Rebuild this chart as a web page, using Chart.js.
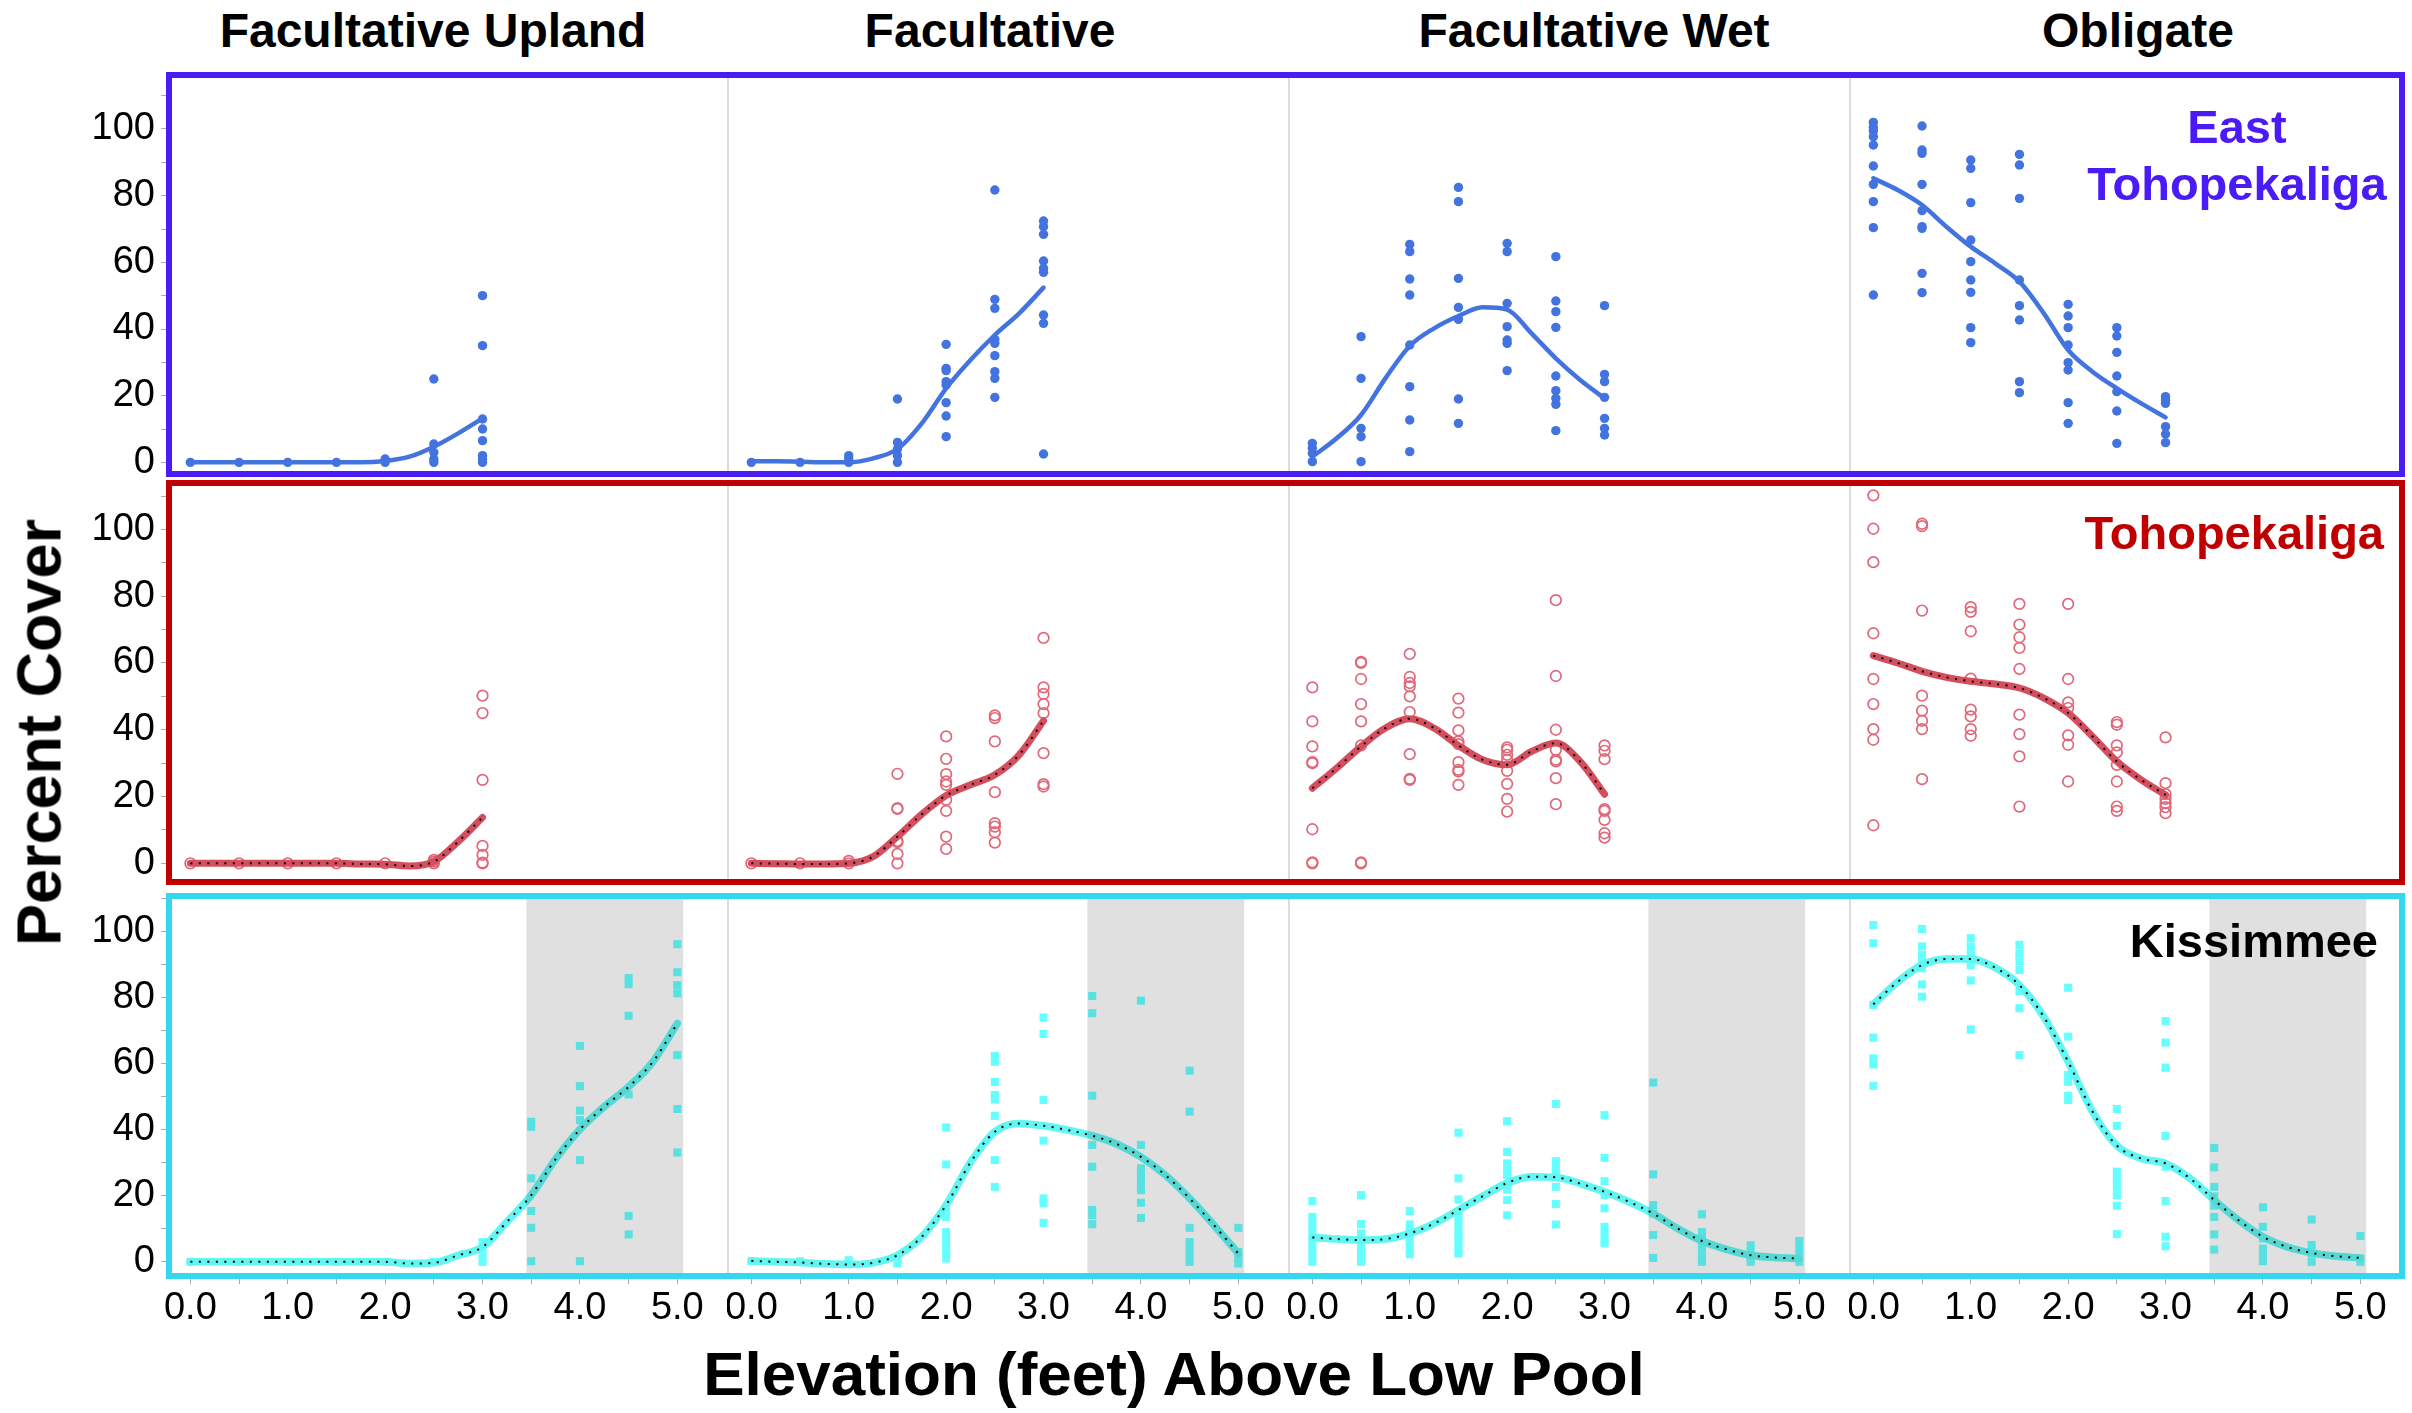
<!DOCTYPE html>
<html>
<head>
<meta charset="utf-8">
<script src="https://cdn.jsdelivr.net/npm/chart.js@4.4.1/dist/chart.umd.min.js"></script>
<style>
  body { margin: 0; background: #fff; overflow: hidden; }
  #figure { position: relative; width: 2412px; height: 1413px; font-family: "Liberation Sans", Arial, sans-serif; }
  #figure canvas { position: absolute; }
  .frame { position: absolute; box-sizing: border-box; border: 6px solid; pointer-events: none; }
  .label { position: absolute; font-weight: bold; line-height: 1; white-space: nowrap; }
</style>
</head>
<body>
<div id="figure"></div>
<script>
// elevations (feet above low pool) where cover was sampled, and where the smooth fit is read
const elevations = [0, 0.5, 1.0, 1.5, 2.0, 2.5, 3.0, 3.5, 4.0, 4.5, 5.0];
const curveX = [0, 0.25, 0.5, 0.75, 1.0, 1.25, 1.5, 1.75, 2.0, 2.25, 2.5, 2.75, 3.0,
                3.25, 3.5, 3.75, 4.0, 4.25, 4.5, 4.75, 5.0];
const xTickValues = [0, 1, 2, 3, 4, 5];
const yTickValues = [0, 20, 40, 60, 80, 100];
const columnTitles = ['Facultative Upland', 'Facultative', 'Facultative Wet', 'Obligate'];
const shadeRange = [3.45, 5.06];

// East Tohopekaliga: percent cover per elevation
const eastUplandPts = [[0], [0], [0], [0], [1, 0], [25, 5.5, 3, 1, 0], [50, 35, 13, 10, 6.5, 2, 1, 0]];
const eastFacPts = [[0], [0], [2, 1, 0], [19, 6, 4, 2, 0],
  [35.4, 28.2, 27.5, 24.2, 23.2, 17.9, 13.9, 7.7],
  [81.7, 48.9, 46.2, 36.9, 35.7, 32, 27.2, 25.2, 19.5],
  [72.4, 70.7, 68.4, 60.4, 58.2, 57, 44.2, 41.7, 2.5]];
const eastWetPts = [[5.7, 4.2, 2.7, 0.2], [37.7, 25.2, 10.2, 7.7, 0.2],
  [65.4, 63.2, 55, 50.2, 35.2, 22.7, 12.7, 3.2],
  [82.5, 78.2, 55.2, 46.5, 42.9, 19, 11.7],
  [65.7, 63.2, 47.7, 40.7, 36.7, 35.7, 27.5],
  [61.7, 48.4, 45.2, 40.5, 25.9, 21.5, 19.2, 17.4, 9.5],
  [47, 26.4, 24.2, 19.5, 13.2, 10.2, 8.2]];
const eastOblPts = [[102, 100.5, 99.5, 97.7, 95.2, 88.9, 83.4, 78.2, 70.4, 50.2],
  [100.9, 93.7, 92.7, 83.4, 75.5, 70.7, 70.2, 56.7, 50.9],
  [90.7, 88.2, 77.9, 66.7, 60.2, 54.7, 51, 40.4, 35.9],
  [92.4, 89.2, 79.2, 54.7, 47, 42.7, 24.2, 20.9],
  [47.4, 43.9, 40.4, 35.2, 29.9, 27.7, 17.9, 11.7],
  [40.4, 37.9, 33, 25.9, 21.2, 15.4, 5.7],
  [19.7, 18.7, 17.7, 10.7, 8.5, 5.9]];
const eastUplandCurve = [0, 0, 0, 0, 0, 0, 0, 0, 0.4, 1.7, 4.7, 8.7, 13.2];
const eastFacCurve = [0.3, 0.3, 0.2, 0, 0, 1.2, 4, 11.7, 22.2, 30.7, 38.2, 44.7, 52.4];
const eastWetCurve = [1.7, 7.2, 14.2, 25.2, 34.9, 40.2, 43.9, 46.5, 45.8, 38.7, 31.2, 24.7, 19.2];
const eastOblCurve = [85.2, 81.7, 77.2, 70.7, 64.7, 59.7, 54.2, 44.7, 33.7, 27.2, 22.2, 17.7, 13.5];

// Tohopekaliga
const tohoUplandPts = [[0], [0], [0], [0], [0], [1, 0.5, 0], [50.2, 45, 25, 5.2, 2.5, 0.2, 0]];
const tohoFacPts = [[0], [0], [0.7, 0], [26.8, 16.5, 16.3, 6.7, 6.3, 2.8, 0],
  [38, 31.3, 26.7, 24.5, 23.5, 19, 15.7, 8, 4.3],
  [44.3, 43.5, 36.5, 21.3, 12, 11, 9.3, 6.2],
  [67.5, 52.7, 50.7, 47.7, 45, 33, 23.7, 23]];
const tohoWetPts = [[52.7, 42.5, 35, 30.3, 30, 10.2, 0.3, 0],
  [60.3, 60, 55.2, 47.7, 42.5, 35.3, 0.3, 0],
  [62.7, 55.8, 54, 53, 50, 45.3, 32.7, 25.3, 25],
  [49.3, 45.1, 39.8, 36.5, 35.7, 30.3, 28, 27.5, 23.5],
  [34.7, 34, 32.5, 31, 27.7, 23.8, 19.3, 15.5],
  [78.8, 56.1, 40, 34, 31, 30.5, 25.5, 17.7],
  [35.3, 33.7, 31.2, 16.2, 15.7, 13, 9, 7.7]];
const tohoOblPts = [[110.2, 100.2, 90.2, 68.9, 55.2, 47.7, 40.2, 37, 11.4],
  [101.7, 101, 75.7, 50.2, 45.7, 42.7, 40.2, 25.2],
  [76.7, 75.3, 69.5, 55.3, 46, 44, 40.2, 38.2],
  [77.7, 71.5, 67.7, 64.5, 58.2, 44.5, 38.7, 32, 17],
  [77.7, 55.2, 48.2, 46.5, 38.3, 35.5, 24.5],
  [42.3, 41.5, 35.3, 33.2, 29.5, 24.5, 17, 15.7],
  [37.7, 24, 20.7, 19.3, 18, 16.8, 15]];
const tohoUplandCurve = [0, 0, 0, 0, 0, 0, 0, -0.2, -0.3, -0.8, 0.5, 6.5, 13.7];
const tohoFacCurve = [0, -0.1, -0.2, -0.2, 0, 2, 8, 14.7, 20.3, 23.5, 26.5, 32.5, 42.7];
const tohoWetCurve = [22.5, 28.5, 35, 40.5, 43.3, 40.5, 35.3, 31, 29.5, 33.5, 36, 30.5, 20.7];
const tohoOblCurve = [62.2, 60, 57.5, 55.7, 54.5, 53.7, 52.5, 49.5, 45, 38, 30.5, 25, 20.5];

// Kissimmee
const kissUplandPts = [[0], [0], [0], [0], [0], [0], [6, 4, 2, 0],
  [42.4, 40.9, 25.3, 15.4, 10.3, 0.2],
  [65.4, 53.2, 45.8, 42.9, 30.8, 0.2],
  [85.9, 84.1, 74.5, 50.7, 13.9, 8.3],
  [96.2, 87.7, 83.8, 81.3, 62.6, 46.3, 33.1]];
const kissFacPts = [[0.2], [0.2], [0.5, -0.5], [1, -0.5],
  [40.7, 29.5, 15.7, 13.6, 9, 7, 5, 3, 1],
  [62.3, 60.6, 54.5, 50.5, 49.2, 44.2, 30.8, 22.7],
  [74, 69, 49, 36.7, 19.2, 17.7, 11.8],
  [80.5, 75.3, 50.3, 35.4, 28.8, 15.7, 14.1, 11.4],
  [79.1, 35.4, 28.3, 26.3, 23.9, 21.7, 17.9, 13.3],
  [57.9, 45.5, 10.3, 6, 4, 2, 0],
  [10.3, 3, 1, -0.5]];
const kissWetPts = [[18.4, 13.6, 11.4, 9.1, 6.6, 4.5, 2.3, 0],
  [20.2, 11.4, 8.6, 6.5, 4.3, 2.2, 0],
  [15.4, 11.3, 9, 6.8, 4.5, 2.3],
  [39.1, 25.3, 18.9, 14.6, 13, 11.1, 9, 7.6, 6, 4, 2.5],
  [42.6, 33.3, 29.8, 28, 26.3, 21.9, 18.7, 14.1],
  [47.8, 30.5, 28.5, 27.3, 22.7, 17.5, 11.3],
  [44.4, 31.5, 24.4, 20.2, 16.2, 10.6, 8.5, 6.5, 5.6],
  [54.3, 26.5, 17.2, 14.6, 8.1, 1.2],
  [14.4, 9, 7, 5, 3, 1, 0],
  [5, 3, 1, 0],
  [6.3, 4, 2, 0]];
const kissOblPts = [[102, 96.5, 77.8, 67.9, 61.6, 59.8, 53.3],
  [100.8, 95.5, 92.9, 90.9, 88.9, 84, 80.3],
  [98, 95.5, 93.4, 91.7, 89.9, 85.2, 70.4],
  [96, 93.4, 91, 88.4, 82, 76.8, 62.6],
  [83, 68.2, 56.6, 54.5, 50.2, 49],
  [46.3, 41.2, 27.3, 25, 22.7, 20.2, 17, 8.4],
  [72.9, 66.4, 58.8, 38.1, 28.8, 18.4, 7.6, 4.7],
  [34.5, 28.6, 22.7, 19.8, 17, 13.6, 8.3, 3.7],
  [16.5, 10.6, 7.1, 4, 2, 0.2],
  [12.8, 5.1, 2.5, 0],
  [7.8, 1, 0]];
const kissUplandCurve = [0, 0, 0, 0, 0, 0, 0, 0, 0, -0.5, -0.3, 2, 4.5, 12.1, 20.2, 31.1, 40.1, 47, 53, 60.6, 72.2];
const kissFacCurve = [0.3, 0, -0.2, -0.6, -0.8, -0.3, 2, 7.6, 17.2, 30.1, 39.4, 41.9, 41.2, 39.9, 38.2, 35.7, 31.8, 26.3, 19.2, 11.1, 2.5];
const kissWetCurve = [7.4, 6.9, 6.6, 6.9, 8.6, 11.6, 15.7, 19.9, 23.9, 25.8, 25.6, 23.7, 21.2, 18.2, 14.6, 10.1, 6.3, 3.8, 2, 1.3, 1];
const kissOblCurve = [78, 84.8, 89.9, 91.7, 91.7, 89.1, 83.8, 74.2, 60.6, 45.5, 35.2, 31.3, 29.8, 25.3, 18.7, 12.6, 7.6, 4.5, 2.7, 1.7, 1.2];

const panelPoints = [
  [eastUplandPts, eastFacPts, eastWetPts, eastOblPts],
  [tohoUplandPts, tohoFacPts, tohoWetPts, tohoOblPts],
  [kissUplandPts, kissFacPts, kissWetPts, kissOblPts]
];
const panelCurves = [
  [eastUplandCurve, eastFacCurve, eastWetCurve, eastOblCurve],
  [tohoUplandCurve, tohoFacCurve, tohoWetCurve, tohoOblCurve],
  [kissUplandCurve, kissFacCurve, kissWetCurve, kissOblCurve]
];

// layout (page pixels)
const colLeft = [166, 727, 1288, 1849];
const colWidth = 561;
const rowTop = [72, 480, 893];
const rowHeight = [405, 405, 386];
const rowYMin = [-4.4, -6.5, -5.2];
const rowYMax = [117.1, 114.8, 111.7];
const xMin = -0.25, xMax = 5.51;
const yAxisWidth = 130, xAxisHeight = 60;

const rowStyles = [
  { frame: '#4b1bf7', pointStyle: 'circle', radius: 4.7, fill: '#4273de', stroke: '#4273de', strokeWidth: 0,
    line: '#4273de', lineWidth: 4.5, dotted: false },
  { frame: '#c00000', pointStyle: 'circle', radius: 5.3, fill: 'rgba(0,0,0,0)', stroke: '#e06878', strokeWidth: 1.7,
    line: '#d44e5d', lineWidth: 7, dotted: true },
  { frame: '#33d8ee', pointStyle: 'rect', radius: 5.7, fill: '#66ffff', stroke: '#66ffff', strokeWidth: 0,
    line: '#60f6f1', lineWidth: 7.5, dotted: true }
];

Chart.defaults.font.family = '"Liberation Sans", Arial, sans-serif';

const panelDecor = {
  id: 'panelDecor',
  beforeDatasetsDraw(chart, args, opts) {
    if (!opts.separator) return;
    const { ctx, chartArea } = chart;
    ctx.save();
    ctx.strokeStyle = '#dcdcdc';
    ctx.lineWidth = 2;
    ctx.beginPath();
    ctx.moveTo(chartArea.left + 1, chartArea.top);
    ctx.lineTo(chartArea.left + 1, chartArea.bottom);
    ctx.stroke();
    ctx.restore();
  },
  afterDatasetsDraw(chart, args, opts) {
    if (!opts.shade) return;
    const { ctx, chartArea } = chart;
    const x = chart.scales.x;
    const x0 = x.getPixelForValue(opts.shade[0]);
    const x1 = x.getPixelForValue(opts.shade[1]);
    ctx.save();
    ctx.fillStyle = 'rgba(0,0,0,0.12)';
    ctx.fillRect(x0, chartArea.top, x1 - x0, chartArea.bottom - chartArea.top);
    ctx.restore();
  }
};

const figure = document.getElementById('figure');

function buildPanel(row, col) {
  const hasY = col === 0;
  const hasX = row === 2;
  const style = rowStyles[row];
  const left = colLeft[col] - (hasY ? yAxisWidth : 0);
  const width = colWidth + (hasY ? yAxisWidth : 0);
  const height = rowHeight[row] + (hasX ? xAxisHeight : 0);

  const canvas = document.createElement('canvas');
  canvas.width = width;
  canvas.height = height;
  canvas.style.left = left + 'px';
  canvas.style.top = rowTop[row] + 'px';
  canvas.style.width = width + 'px';
  canvas.style.height = height + 'px';
  figure.appendChild(canvas);

  const scatter = [];
  panelPoints[row][col].forEach((values, i) => {
    values.forEach(v => scatter.push({ x: elevations[i], y: v }));
  });
  const curve = panelCurves[row][col].map((v, i) => ({ x: curveX[i], y: v }));

  const datasets = [];
  if (style.dotted) {
    datasets.push({
      data: curve, showLine: true, pointRadius: 0, borderColor: '#000', borderWidth: 2,
      borderDash: [2, 6.5], cubicInterpolationMode: 'monotone', order: 1
    });
  }
  datasets.push({
    data: curve, showLine: true, pointRadius: 0, borderColor: style.line, borderWidth: style.lineWidth,
    borderCapStyle: 'round', cubicInterpolationMode: 'monotone', order: 2
  });
  datasets.push({
    data: scatter, showLine: false, pointStyle: style.pointStyle, pointRadius: style.radius,
    pointBackgroundColor: style.fill, pointBorderColor: style.stroke, pointBorderWidth: style.strokeWidth,
    order: 3
  });

  new Chart(canvas, {
    type: 'scatter',
    data: { datasets },
    plugins: [panelDecor],
    options: {
      responsive: false,
      animation: false,
      events: [],
      layout: { padding: 0, autoPadding: false },
      plugins: {
        legend: { display: false },
        tooltip: { enabled: false },
        panelDecor: { separator: col > 0, shade: row === 2 ? shadeRange : null }
      },
      scales: {
        x: {
          type: 'linear', min: xMin, max: xMax, display: hasX,
          afterBuildTicks: axis => { axis.ticks = axis.ticks.filter(t => t.value >= 0 && t.value <= 5); },
          afterFit: axis => {
            axis.height = hasX ? xAxisHeight : 0;
            axis.paddingLeft = 0;
            axis.paddingRight = 0;
          },
          ticks: {
            stepSize: 0.5, includeBounds: false, autoSkip: false, maxRotation: 0, minRotation: 0, padding: 2,
            color: '#000', font: { size: 38 },
            callback: v => xTickValues.includes(v) ? v.toFixed(1) : ''
          },
          grid: { drawOnChartArea: false, drawTicks: true, tickLength: 5, color: '#aaa' },
          border: { display: false }
        },
        y: {
          type: 'linear', min: rowYMin[row], max: rowYMax[row], display: hasY,
          afterBuildTicks: axis => { axis.ticks = axis.ticks.filter(t => t.value >= 0 && t.value <= 110); },
          afterFit: axis => {
            axis.width = hasY ? yAxisWidth : 0;
            axis.paddingTop = 0;
            axis.paddingBottom = 0;
          },
          ticks: {
            stepSize: 10, includeBounds: false, autoSkip: false, padding: 6,
            color: '#000', font: { size: 38 },
            callback: v => yTickValues.includes(v) ? String(v) : ''
          },
          grid: { drawOnChartArea: false, drawTicks: true, tickLength: 5, color: '#aaa' },
          border: { display: false }
        }
      }
    }
  });
}

for (let r = 0; r < 3; r++) {
  for (let c = 0; c < 4; c++) buildPanel(r, c);
}

// frames around each row of panels
const frameBottom = [477, 885, 1279];
rowStyles.forEach((s, r) => {
  const f = document.createElement('div');
  f.className = 'frame';
  f.style.borderColor = s.frame;
  f.style.left = '166px';
  f.style.top = rowTop[r] + 'px';
  f.style.width = (2405 - 166) + 'px';
  f.style.height = (frameBottom[r] - rowTop[r]) + 'px';
  figure.appendChild(f);
});

// text placed by baseline (line-height 1, Liberation Sans ascent offset 0.8465em)
function addText(text, x, baseline, size, align, color) {
  const d = document.createElement('div');
  d.className = 'label';
  d.textContent = text;
  d.style.fontSize = size + 'px';
  d.style.color = color || '#000';
  d.style.top = (baseline - 0.8465 * size) + 'px';
  d.style.width = '1000px';
  d.style.textAlign = align;
  d.style.left = (align === 'center' ? x - 500 : x - 1000) + 'px';
  figure.appendChild(d);
  return d;
}

const titleCenters = [433, 990, 1594, 2138];
columnTitles.forEach((t, i) => addText(t, titleCenters[i], 47.5, 48, 'center'));

addText('East', 2237, 143, 47, 'center', '#4b1bf7');
addText('Tohopekaliga', 2237, 200, 47, 'center', '#4b1bf7');
addText('Tohopekaliga', 2384, 549, 47, 'right', '#c00000');
addText('Kissimmee', 2378, 957, 47, 'right', '#000');

addText('Elevation (feet) Above Low Pool', 1174, 1395, 62, 'center');

const yTitle = document.createElement('div');
yTitle.className = 'label';
yTitle.textContent = 'Percent Cover';
yTitle.style.fontSize = '63px';
yTitle.style.width = '600px';
yTitle.style.height = '63px';
yTitle.style.textAlign = 'center';
yTitle.style.left = (38.5 - 300) + 'px';
yTitle.style.top = (732 - 31.5) + 'px';
yTitle.style.transform = 'rotate(-90deg)';
figure.appendChild(yTitle);
</script>
</body>
</html>
